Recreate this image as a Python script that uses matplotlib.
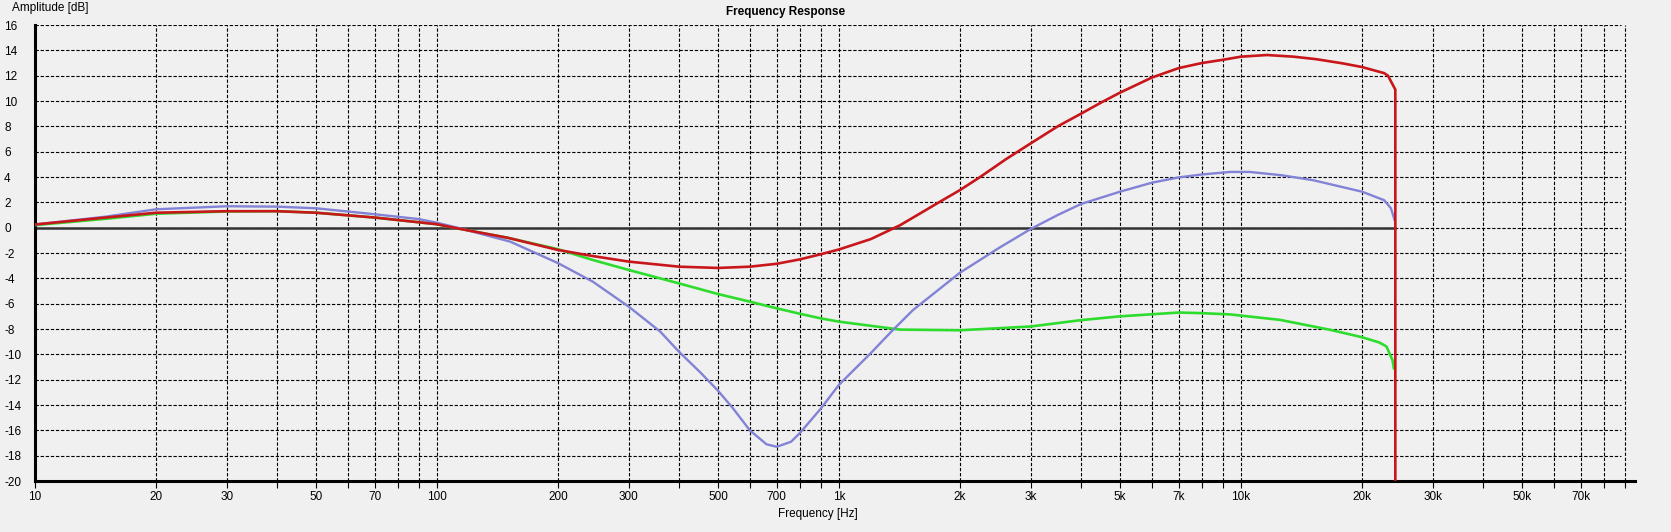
import matplotlib
matplotlib.use("Agg")
import matplotlib.pyplot as plt
from matplotlib.ticker import FixedLocator, NullFormatter

plt.rcParams['font.family'] = ['Liberation Sans', 'DejaVu Sans']

# frequency response curves (Hz, dB)
red_f = [10, 15, 20, 30, 40, 50, 70, 100, 110, 150, 200, 244, 300, 400, 500, 600, 700,
         800, 900, 1000, 1200, 1420, 1783, 2000, 2244, 2600, 3000, 3500, 4000, 4500,
         5000, 6000, 7000, 8000, 9000, 10000, 11600, 13500, 15400, 17900, 20000, 22700,
         23200, 24200, 24200]
red_db = [0.25, 0.8, 1.18, 1.3, 1.3, 1.18, 0.8, 0.27, 0.0, -0.8, -1.76, -2.24, -2.68,
          -3.08, -3.18, -3.08, -2.85, -2.5, -2.1, -1.72, -0.9, 0.2, 2.05, 2.97, 4.0, 5.4,
          6.66, 8.0, 9.0, 9.9, 10.66, 11.85, 12.6, 13.0, 13.25, 13.5, 13.63, 13.5, 13.3,
          12.97, 12.68, 12.2, 12.0, 10.9, -60]

blue_f = [10, 15, 20, 30, 40, 50, 70, 90, 100, 114, 152, 200, 244, 300, 359, 400, 451,
          500, 546, 600, 660, 700, 760, 800, 900, 1000, 1200, 1350, 1528, 2000,
          2500, 3000, 3500, 4000, 5000, 6000, 7000, 8000, 9400, 10500, 12600, 15100,
          20000, 22700, 23600, 24100]
blue_db = [0.25, 0.87, 1.45, 1.69, 1.66, 1.53, 1.06, 0.68, 0.39, -0.05, -1.1, -2.8,
           -4.26, -6.24, -8.2, -9.8, -11.4, -12.87, -14.3, -16.0, -17.1, -17.3, -16.9,
           -16.2, -14.3, -12.4, -9.9, -8.2, -6.5, -3.55, -1.6, -0.1, 1.0, 1.87,
           2.84, 3.55, 3.97, 4.2, 4.4, 4.4, 4.14, 3.75, 2.84, 2.17, 1.53, 0.6]

green_f = [10, 15, 20, 30, 40, 50, 70, 100, 110, 150, 200, 244, 300, 400, 500, 600, 700,
           800, 900, 1000, 1420, 2000, 3000, 4000, 5000, 7000, 8000, 9400, 12500, 16700,
           20000, 22100, 23000, 23800, 24000]
green_db = [0.2, 0.7, 1.1, 1.28, 1.3, 1.18, 0.8, 0.27, 0.0, -0.8, -1.7, -2.55, -3.34,
            -4.4, -5.24, -5.84, -6.37, -6.8, -7.16, -7.42, -8.05, -8.1, -7.8, -7.3, -7.0,
            -6.7, -6.75, -6.85, -7.28, -8.07, -8.65, -9.07, -9.38, -10.44, -11.1]

ref_f = [10, 24200]
ref_db = [0, 0]

xtick_vals = [10, 20, 30, 50, 70, 100, 200, 300, 500, 700, 1000, 2000, 3000, 5000,
              7000, 10000, 20000, 30000, 50000, 70000]
xtick_labels = ['10', '20', '30', '50', '70', '100', '200', '300', '500', '700', '1k',
                '2k', '3k', '5k', '7k', '10k', '20k', '30k', '50k', '70k']
xgrid_minor = [40, 60, 80, 90, 400, 600, 800, 900, 4000, 6000, 8000, 9000,
               40000, 60000, 80000, 90000]
ytick_vals = list(range(-20, 17, 2))

bg = '#F0F0F0'
W, H = 1671, 532
fig = plt.figure(figsize=(W / 100, H / 100), dpi=100, facecolor=bg)
ax = fig.add_axes([35 / W, (H - 481) / H, 1600 / W, 456 / H], facecolor=bg)

ax.set_xscale('log')
ax.set_xlim(10, 95500)
ax.set_ylim(-20, 16)

dash = (0, (3, 1.6))
# grid
for f in xtick_vals + xgrid_minor:
    ax.axvline(f, color='black', lw=0.8, ls=dash, zorder=1)
ax.hlines(ytick_vals, 10, 88000, colors='black', lw=0.8, linestyles=dash, zorder=1)

ax.plot(ref_f, ref_db, color='#333333', lw=1.8, zorder=2)
ax.plot(green_f, green_db, color='#2EDC2E', lw=1.9, zorder=3)
ax.plot(blue_f, blue_db, color='#8282D6', lw=1.7, zorder=4)
ax.plot(red_f, red_db, color='#C8161B', lw=1.9, zorder=5)

for s in ['top', 'right']:
    ax.spines[s].set_visible(False)
for s in ['left', 'bottom']:
    ax.spines[s].set_linewidth(2.2)
    ax.spines[s].set_color('black')

ax.xaxis.set_major_locator(FixedLocator(xtick_vals))
ax.set_xticklabels(xtick_labels)
ax.xaxis.set_minor_locator(FixedLocator(xgrid_minor))
ax.xaxis.set_minor_formatter(NullFormatter())
ax.tick_params(axis='x', which='both', direction='out', length=5, width=0.8,
               pad=2, labelsize=8.5, colors='black')

ax.set_yticks(ytick_vals)
ax.set_yticklabels([str(v) for v in ytick_vals])
ax.tick_params(axis='y', length=0, pad=22.3, labelsize=8.5)
for lab in ax.get_yticklabels():
    lab.set_horizontalalignment('left')

fig.text(12 / W, 1 - 8 / H, 'Amplitude [dB]', fontsize=8.5, ha='left', va='center')
fig.text(786 / W, 1 - 12 / H, 'Frequency Response', fontsize=8.5, weight='bold',
         ha='center', va='center')
fig.text(818 / W, 1 - 514 / H, 'Frequency [Hz]', fontsize=8.5, ha='center', va='center')

fig.savefig('out.png', dpi=100, facecolor=bg)
